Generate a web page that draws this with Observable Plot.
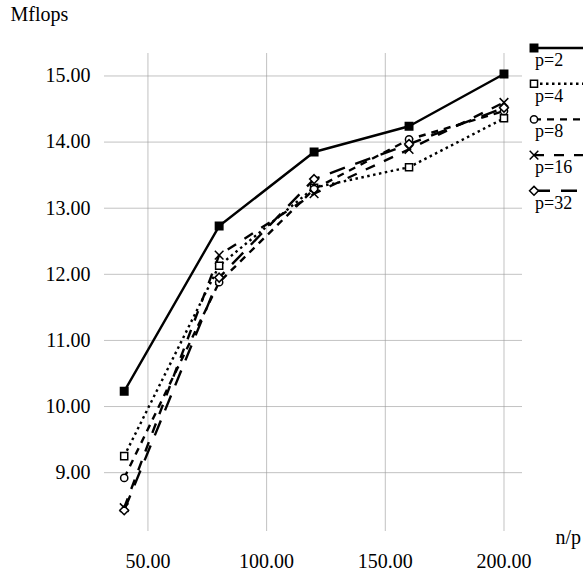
<!DOCTYPE html>
<html>
<head>
<meta charset="utf-8">
<script src="https://cdn.jsdelivr.net/npm/d3@7"></script>
<script src="https://cdn.jsdelivr.net/npm/@observablehq/plot@0.6"></script>
<style>
  html, body { margin: 0; padding: 0; background: #fff; }
  #wrap { position: relative; width: 583px; height: 572px; overflow: hidden; }
  #wrap text { font-family: "Liberation Serif", "Times New Roman", serif; }
  #legend { position: absolute; left: 0; top: 0; }
</style>
</head>
<body>
<div id="wrap"></div>
<script>
// ---- data ----
const nOverP = [40, 80, 120, 160, 200];
const seriesNames = ["p=2", "p=4", "p=8", "p=16", "p=32"];
const p2  = [10.23, 12.73, 13.85, 14.24, 15.03];
const p4  = [9.25, 12.13, 13.31, 13.62, 14.36];
const p8  = [8.92, 11.88, 13.29, 14.04, 14.47];
const p16 = [8.47, 12.29, 13.22, 13.89, 14.60];
const p32 = [8.43, 11.95, 13.44, 13.97, 14.52];
const xTicks = [50, 100, 150, 200];
const yTicks = [9, 10, 11, 12, 13, 14, 15];
const xLabel = "n/p";
const yLabel = "Mflops";

// ---- styles ----
const seriesValues = [p2, p4, p8, p16, p32];
const dashes = [null, "2.5,3.5", "7,6", "10,10", "16,11"];
const symbols = ["square", "square", "circle", "times", "diamond2"];
const fills = ["black", "white", "white", "none", "white"];
const rs = [4.2, 4, 3.6, 4, 4];

const rows = [];
seriesNames.forEach((name, i) => {
  nOverP.forEach((x, j) => rows.push({series: name, idx: i, x, y: seriesValues[i][j]}));
});

const font = '"Liberation Serif", "Times New Roman", serif';

const marks = [
  Plot.gridX(xTicks, {stroke: "#999", strokeOpacity: 0.6, strokeWidth: 1}),
  Plot.gridY(yTicks, {stroke: "#999", strokeOpacity: 0.6, strokeWidth: 1}),
  Plot.axisX(xTicks, {tickSize: 0, tickPadding: 22, tickFormat: d3.format(".2f"), fontSize: 20, label: null}),
  Plot.axisY(yTicks, {tickSize: 0, tickPadding: 14, tickFormat: d3.format(".2f"), fontSize: 20, label: null}),
];
seriesNames.forEach((name, i) => {
  const data = rows.filter(d => d.idx === i);
  marks.push(Plot.line(data, {x: "x", y: "y", stroke: "black", strokeWidth: 2.4,
    strokeDasharray: dashes[i] || undefined, strokeLinecap: "butt"}));
});
seriesNames.forEach((name, i) => {
  const data = rows.filter(d => d.idx === i);
  marks.push(Plot.dot(data, {x: "x", y: "y", symbol: () => symbols[i], r: rs[i],
    stroke: "black", strokeWidth: 1.5, fill: fills[i]}));
});
marks.push(Plot.text([yLabel], {frameAnchor: "top-left", text: d => d, dx: -94, dy: -47, lineAnchor: "top", fontSize: 20, textAnchor: "start", fill: "black"}));
marks.push(Plot.text([xLabel], {frameAnchor: "bottom-right", text: d => d, dx: 33, dy: 12, lineAnchor: "bottom", fontSize: 20, textAnchor: "start", fill: "black"}));

const chart = Plot.plot({
  width: 583,
  height: 572,
  marginLeft: 104,
  marginRight: 61,
  marginTop: 53,
  marginBottom: 41,
  style: {fontFamily: font, color: "black", background: "white"},
  x: {domain: [31.7, 207.8]},
  y: {domain: [8.11, 15.34]},
  marks
});
document.getElementById("wrap").appendChild(chart);

// ---- legend ----
const leg = d3.select("#wrap").append("svg")
  .attr("id", "legend").attr("width", 583).attr("height", 572);
seriesNames.forEach((name, i) => {
  const cy = 48 + i * 35.7;
  const g = leg.append("g");
  g.append("line").attr("x1", 534).attr("x2", 590).attr("y1", cy).attr("y2", cy)
    .attr("stroke", "black").attr("stroke-width", 2.4)
    .attr("stroke-dasharray", dashes[i] ? dashes[i] : null);
  const symMap = {square: d3.symbolSquare, circle: d3.symbolCircle, times: d3.symbolTimes, diamond2: d3.symbolDiamond2};
  g.append("path").attr("transform", `translate(534,${cy})`)
    .attr("d", d3.symbol(symMap[symbols[i]], Math.PI * rs[i] * rs[i])())
    .attr("fill", fills[i]).attr("stroke", "black").attr("stroke-width", 1.5);
  g.append("text").attr("x", 535).attr("y", cy + 18).attr("font-size", 18)
    .text(name);
});
</script>
</body>
</html>
